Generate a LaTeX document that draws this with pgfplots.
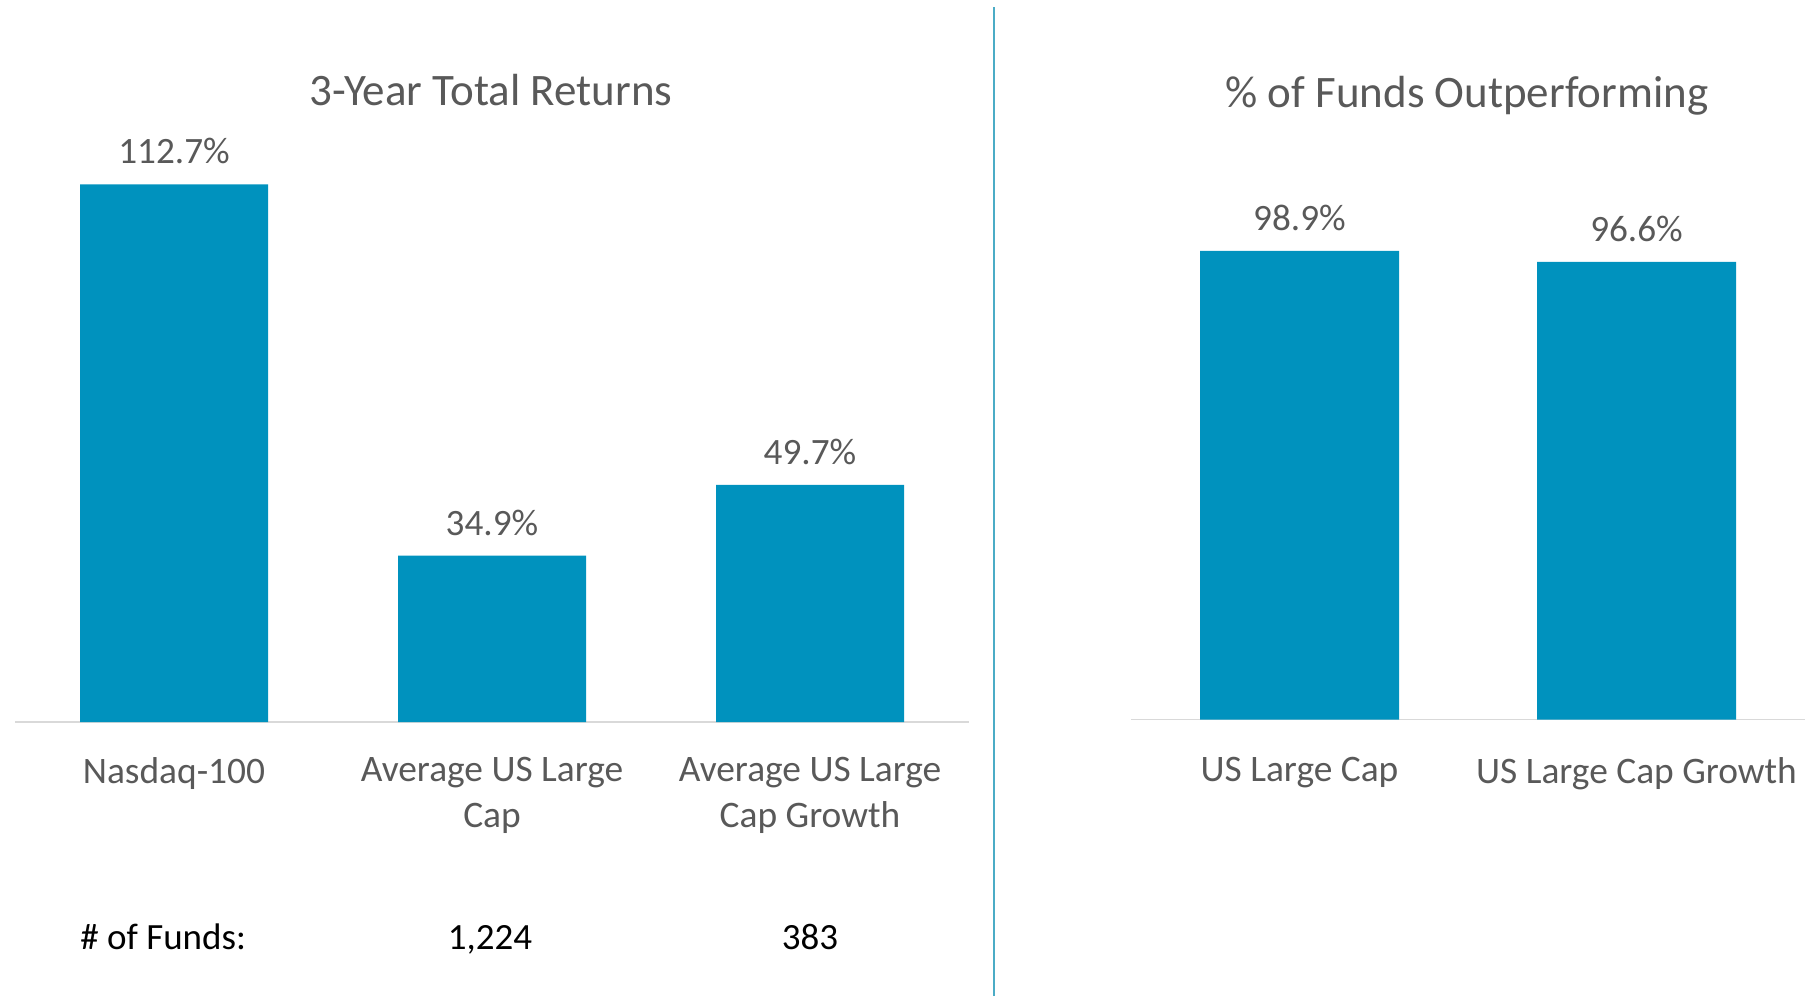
\documentclass[border=0pt]{standalone}
\usepackage{pgfplots}
\pgfplotsset{compat=1.18}
\usepackage{fontspec}
\setmainfont{Carlito}
\definecolor{barblue}{RGB}{0,146,190}
\definecolor{txtgrey}{RGB}{89,89,89}
\definecolor{divblue}{RGB}{75,172,198}
\definecolor{axgrey}{RGB}{217,217,217}
\begin{document}
\begin{tikzpicture}
\path[use as bounding box] (0,0) rectangle (904pt,498pt);
\pgfplotsset{
 mybars/.style={
  scale only axis, ymin=0, enlargelimits=false,
  axis x line*=bottom, axis y line=none,
  x axis line style={draw=axgrey, line width=0.75pt},
  major tick length=0pt, ytick=\empty, xtick=data,
  clip=false,
  xticklabel style={font=\fontsize{18.7}{23}\selectfont, text=txtgrey, align=center, anchor=north, inner sep=0pt},
  nodes near coords={\pgfmathprintnumber[fixed,fixed zerofill,precision=1,assume math mode=true]{\pgfplotspointmeta}\%},
  every node near coord/.append style={font=\fontsize{18.6}{23}\selectfont, text=txtgrey, anchor=center, yshift=16.5pt},
 }
}
\begin{axis}[mybars, at={(7.5pt,137pt)}, anchor=south west,
  width=477pt, height=286.2pt, xmin=-0.5, xmax=2.5, ymax=120,
  xticklabel style={yshift=-17.6pt},
  xticklabels={Nasdaq-100, {Average US Large\\Cap}, {Average US Large\\Cap Growth}}]
\addplot[ybar, bar width=94pt, fill=barblue, draw=none] coordinates {(0,112.7) (1,34.9) (2,49.7)};
\end{axis}
\begin{axis}[mybars, at={(565.5pt,138.25pt)}, anchor=south west,
  width=337pt, height=248.7pt, xmin=-0.5, xmax=1.5, ymax=105,
  xticklabel style={yshift=-18.8pt},
  xticklabels={US Large Cap, US Large Cap Growth}]
\addplot[ybar, bar width=99.5pt, fill=barblue, draw=none] coordinates {(0,98.9) (1,96.6)};
\end{axis}
\node[font=\fontsize{22.5}{27}\selectfont, text=txtgrey] at (245.5pt,453pt) {3-Year Total Returns};
\node[font=\fontsize{22.5}{27}\selectfont, text=txtgrey] at (733.5pt,450pt) {\% of Funds Outperforming};
\node[font=\fontsize{18.5}{23}\selectfont, text=black, anchor=base west, inner sep=0pt] at (40pt,23.2pt) {\# of Funds:};
\node[font=\fontsize{18.5}{23}\selectfont, text=black, anchor=base, inner sep=0pt] at (245pt,23.2pt) {1,224};
\node[font=\fontsize{18.5}{23}\selectfont, text=black, anchor=base, inner sep=0pt] at (405pt,23.2pt) {383};
\draw[divblue, line width=1pt] (497pt,0) -- (497pt,494.5pt);
\end{tikzpicture}
\end{document}
